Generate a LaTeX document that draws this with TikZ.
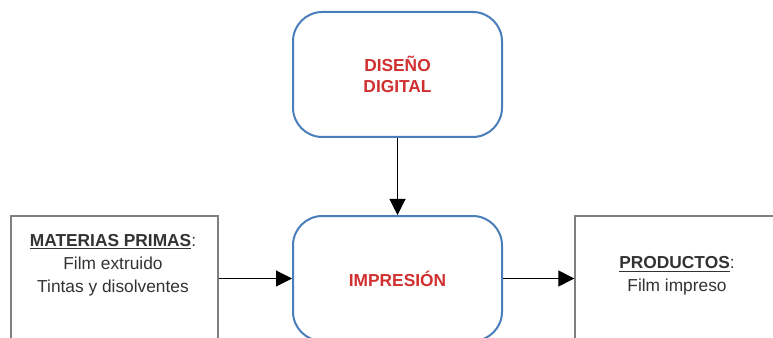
\documentclass[tikz,border=0pt]{standalone}
\usepackage{fontspec}
\setmainfont{Liberation Sans}
\usepackage{xcolor}
\usepackage{tikz}
\usetikzlibrary{arrows.meta,positioning}
\definecolor{frame}{HTML}{4A7EBB}
\definecolor{stage}{HTML}{D03030}
\definecolor{boxline}{HTML}{7F7F7F}
\definecolor{ink}{HTML}{333333}

\begin{document}
\begin{tikzpicture}[x=0.75pt, y=-0.75pt,
  stagebox/.style={draw=frame, line width=1.5pt, rounded corners=22pt, minimum width=156.75pt, minimum height=93.75pt, fill=white, align=center, font=\fontsize{13}{16}\selectfont\bfseries\color{stage}},
  flowbox/.style={draw=boxline, line width=1pt, minimum width=155.25pt, minimum height=93.75pt, fill=white},
  note/.style={align=center, font=\fontsize{13}{17.25}\selectfont\color{ink}},
  flow/.style={-{Triangle[length=12pt,width=12pt]}, line width=0.8pt, black}
]
  \useasboundingbox (0,0) rectangle (773,338);
  \clip (0,0) rectangle (773,338);
  \node[stagebox] (diseno) at (397.5,74.5) {DISEÑO\\DIGITAL};
  \node[stagebox] (impresion) at (397.5,278.5) {IMPRESIÓN};
  \node[flowbox] (materias) at (114.5,278.5) {};
  \node[flowbox] (productos) at (678.5,278.5) {};
  \node[note] (materiastxt) at (113,265) {\textbf{\underline{MATERIAS PRIMAS}}:\\Film extruido\\Tintas y disolventes};
  \node[note] (productostxt) at (677,276) {\textbf{\underline{PRODUCTOS}}:\\Film impreso};
  \draw[flow] (diseno) -- (impresion);
  \draw[flow] (materias) -- (impresion);
  \draw[flow] (impresion) -- (productos);
\end{tikzpicture}
\end{document}
